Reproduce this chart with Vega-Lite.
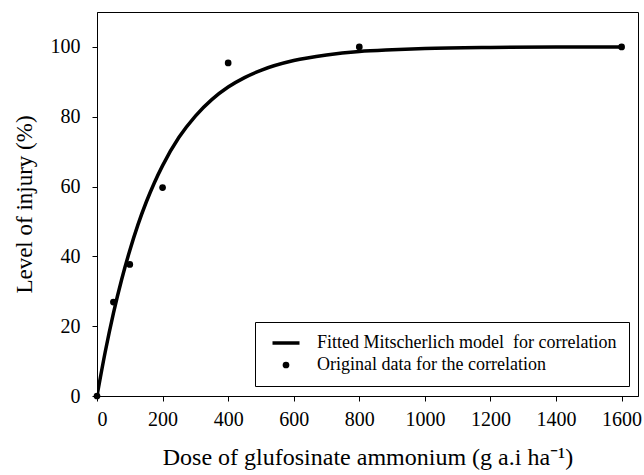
{
  "$schema": "https://vega.github.io/schema/vega-lite/v6.json",
  "width": 541,
  "height": 384,
  "autosize": {"type": "none"},
  "padding": {"left": 97, "top": 12, "right": 6, "bottom": 79},
  "background": "white",
  "config": {
    "font": "Liberation Serif",
    "view": {"stroke": "black", "strokeWidth": 1},
    "style": {
      "guide-label": {"font": "Liberation Serif", "fill": "black"},
      "guide-title": {"font": "Liberation Serif", "fill": "black"}
    },
    "axis": {
      "domainColor": "black",
      "tickColor": "black",
      "labelColor": "black",
      "titleColor": "black",
      "grid": false,
      "labelFont": "Liberation Serif",
      "titleFont": "Liberation Serif",
      "labelFontSize": 20,
      "titleFontSize": 23,
      "titleFontWeight": "normal",
      "tickSize": 5
    }
  },
  "datasets": {
    "curve": [
      {"dose": 0, "injury": 0},
      {"dose": 25, "injury": 12.6},
      {"dose": 50, "injury": 23.7},
      {"dose": 75, "injury": 33.3},
      {"dose": 100, "injury": 41.7},
      {"dose": 125, "injury": 49.1},
      {"dose": 150, "injury": 55.5},
      {"dose": 175, "injury": 61.1},
      {"dose": 200, "injury": 66.0},
      {"dose": 250, "injury": 74.1},
      {"dose": 300, "injury": 80.2},
      {"dose": 350, "injury": 84.9},
      {"dose": 400, "injury": 88.5},
      {"dose": 450, "injury": 91.2},
      {"dose": 500, "injury": 93.3},
      {"dose": 600, "injury": 96.1},
      {"dose": 700, "injury": 97.7},
      {"dose": 800, "injury": 98.7},
      {"dose": 900, "injury": 99.2},
      {"dose": 1000, "injury": 99.55},
      {"dose": 1200, "injury": 99.85},
      {"dose": 1400, "injury": 99.95},
      {"dose": 1600, "injury": 99.98}
    ],
    "obs": [
      {"dose": 0, "injury": 0},
      {"dose": 50, "injury": 26.9},
      {"dose": 100, "injury": 37.7},
      {"dose": 200, "injury": 59.7},
      {"dose": 400, "injury": 95.4},
      {"dose": 800, "injury": 100},
      {"dose": 1600, "injury": 100}
    ]
  },
  "layer": [
    {
      "data": {"name": "curve"},
      "mark": {"type": "line", "strokeWidth": 3.5, "clip": true, "interpolate": "monotone"},
      "encoding": {
        "x": {
          "field": "dose", "type": "quantitative",
          "scale": {"domain": [0, 1650], "nice": false, "zero": false},
          "axis": {"values": [0, 200, 400, 600, 800, 1000, 1200, 1400, 1600], "format": "d", "labelFont": "Liberation Serif", "titleFont": "Liberation Serif", "labelFontSize": 20, "titleFontSize": 24, "labelPadding": 8, "title": "Dose of glufosinate ammonium (g a.i ha⁻¹)", "titlePadding": 16}
        },
        "y": {
          "field": "injury", "type": "quantitative",
          "scale": {"domain": [0, 110], "nice": false},
          "axis": {"values": [0, 20, 40, 60, 80, 100], "format": "d", "labelFont": "Liberation Serif", "titleFont": "Liberation Serif", "labelFontSize": 20, "titleFontSize": 23, "labelPadding": 12, "title": "Level of injury (%)", "titlePadding": 14}
        },
        "color": {
          "datum": "Fitted Mitscherlich model  for correlation",
          "type": "nominal",
          "scale": {"domain": ["Fitted Mitscherlich model  for correlation", "Original data for the correlation"], "range": ["black", "black"]},
          "legend": {
            "title": null,
            "orient": "none",
            "legendX": 158,
            "legendY": 310,
            "strokeColor": "black",
            "fillColor": "white",
            "padding": 12,
            "symbolSize": 400,
            "symbolStrokeWidth": 3,
            "symbolOffset": 10,
            "labelOffset": 22,
            "labelFont": "Liberation Serif",
            "labelFontSize": 18,
            "labelColor": "black",
            "labelLimit": 400,
            "labelExpr": "replace(datum.label, '  ', ' \u00a0')",
            "rowPadding": 4,
            "encode": {
              "symbols": {
                "update": {
                  "shape": {"signal": "datum.index === 0 ? 'stroke' : 'circle'"},
                  "size": {"signal": "datum.index === 0 ? 729 : 45"},
                  "fill": {"signal": "datum.index === 0 ? 'transparent' : 'black'"},
                  "stroke": {"value": "black"},
                  "strokeWidth": {"signal": "datum.index === 0 ? 3.5 : 0"},
                  "opacity": {"value": 1}
                }
              }
            }
          }
        }
      }
    },
    {
      "data": {"name": "obs"},
      "mark": {"type": "point", "filled": true, "size": 45, "opacity": 1, "clip": false},
      "encoding": {
        "x": {"field": "dose", "type": "quantitative"},
        "y": {"field": "injury", "type": "quantitative"},
        "color": {"datum": "Original data for the correlation", "type": "nominal"}
      }
    }
  ]
}
